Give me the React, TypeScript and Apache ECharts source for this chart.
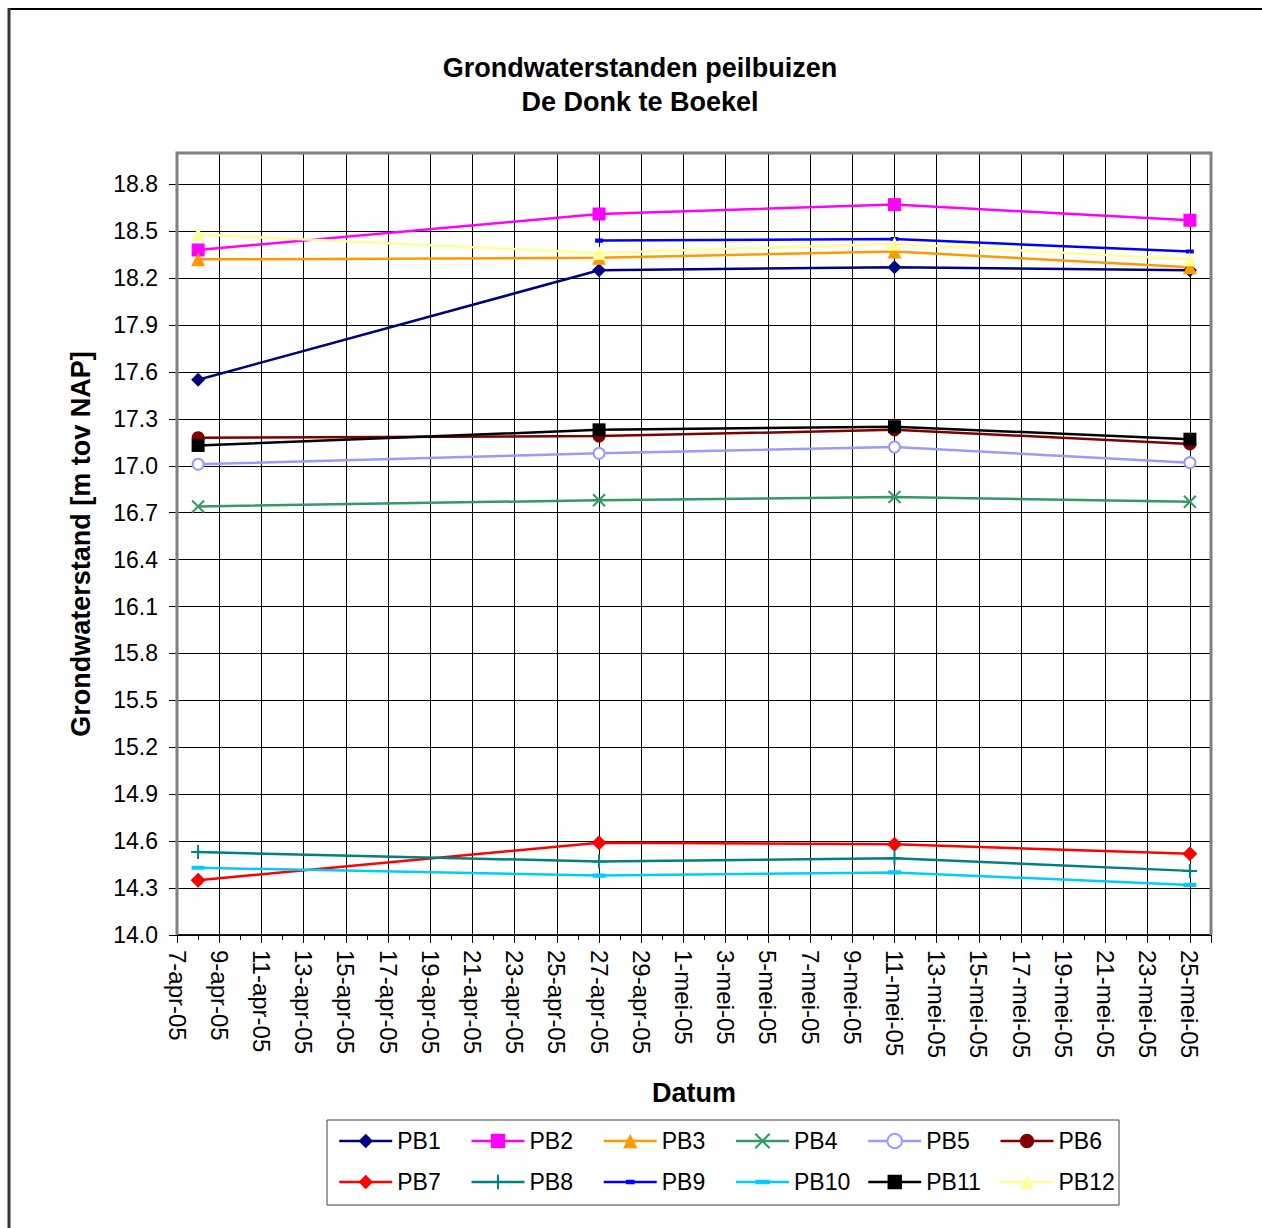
import React, { useEffect, useRef } from "react";
import * as echarts from "echarts";

// ---- data ----
const startDate = "2005-04-07";
const endDate = "2005-05-26";
const measurementDates = ["2005-04-08", "2005-04-27", "2005-05-11", "2005-05-25"];
const monthNames = ["jan", "feb", "mrt", "apr", "mei", "jun", "jul", "aug", "sep", "okt", "nov", "dec"];
const yBase = 14.0;
const yTop = 19.0;
const yStep = 0.3;
const xStepDays = 2;

const PB1 = [17.55, 18.25, 18.27, 18.25];
const PB2 = [18.38, 18.61, 18.67, 18.57];
const PB3 = [18.32, 18.33, 18.37, 18.27];
const PB4 = [16.74, 16.78, 16.8, 16.77];
const PB5 = [17.01, 17.08, 17.12, 17.02];
const PB6 = [17.18, 17.19, 17.23, 17.14];
const PB7 = [14.35, 14.59, 14.58, 14.52];
const PB8 = [14.53, 14.47, 14.49, 14.41];
const PB9 = [null, 18.44, 18.45, 18.37];
const PB10 = [14.43, 14.38, 14.4, 14.32];
const PB11 = [17.13, 17.23, 17.25, 17.17];
const PB12 = [18.48, 18.36, 18.42, 18.32];

const seriesNames = ["PB1", "PB2", "PB3", "PB4", "PB5", "PB6", "PB7", "PB8", "PB9", "PB10", "PB11", "PB12"];
const seriesValues = [PB1, PB2, PB3, PB4, PB5, PB6, PB7, PB8, PB9, PB10, PB11, PB12];

// ---- styles ----
const FONT = "'Liberation Sans', Arial, sans-serif";
const SHORT_DASH = "path://M0,0L0.01,0M2,3.4L8,3.4L8,6.6L2,6.6ZM10,10L9.99,10";
const LONG_DASH = "path://M0,0L0.01,0M0,3.4L10,3.4L10,6.6L0,6.6ZM10,10L9.99,10";
const styles: any[] = [
  { color: "#000080", symbol: "diamond", size: 14 },
  { color: "#FF00FF", symbol: "rect", size: 13 },
  { color: "#FF9900", symbol: "triangle", size: 14 },
  { color: "#339966", symbol: "path://M0,0L10,10M10,0L0,10", size: 12, stroke: true },
  { color: "#9999FF", symbol: "emptyCircle", size: 11 },
  { color: "#800000", symbol: "circle", size: 13 },
  { color: "#FF0000", symbol: "diamond", size: 15 },
  { color: "#008080", symbol: "path://M5,0L5,10M0,5L10,5", size: 14, stroke: true },
  { color: "#0000FF", symbol: SHORT_DASH, size: 13 },
  { color: "#00CCFF", symbol: LONG_DASH, size: 13 },
  { color: "#000000", symbol: "rect", size: 13 },
  { color: "#FFFF99", symbol: "triangle", size: 14 },
];

const DAY = 86400000;
const dayOffset = (d: string) => Math.round((Date.parse(d) - Date.parse(startDate)) / DAY);
const xMax = dayOffset(endDate);

function formatDay(v: number) {
  const d = new Date(Date.parse(startDate) + v * DAY);
  const yy = String(d.getUTCFullYear()).slice(2);
  return `${d.getUTCDate()}-${monthNames[d.getUTCMonth()]}-${yy}`;
}

export default function App() {
  const ref = useRef<HTMLDivElement>(null);

  useEffect(() => {
    if (!ref.current) return;
    const chart = echarts.init(ref.current, null, { renderer: "svg" });

    const series = seriesNames.map((name, i) => {
      const st = styles[i];
      const data = measurementDates
        .map((d, j) => (seriesValues[i][j] == null ? null : [dayOffset(d), (seriesValues[i][j] as number) - yBase]))
        .filter((p) => p !== null);
      return {
        name,
        type: "line",
        data,
        symbol: st.symbol,
        symbolSize: st.size,
        showAllSymbol: true,
        lineStyle: { color: st.color, width: 2.5 },
        itemStyle: st.stroke
          ? { color: st.color, borderColor: st.color, borderWidth: 2 }
          : st.symbol === "emptyCircle"
          ? { color: st.color, borderColor: st.color, borderWidth: 2 }
          : { color: st.color, borderWidth: 0 },
        emphasis: { disabled: true },
      };
    });

    const option: any = {
      animation: false,
      backgroundColor: "#ffffff",
      title: {
        text: "Grondwaterstanden peilbuizen\nDe Donk te Boekel",
        left: 640,
        top: 51,
        padding: 0,
        textAlign: "center",
        textStyle: { fontFamily: FONT, fontSize: 27, fontWeight: "bold", color: "#000", lineHeight: 34 },
      },
      legend: {
        data: seriesNames,
        left: 338,
        top: 1127,
        width: 800,
        padding: 0,
        itemWidth: 53,
        itemHeight: 18,
        itemGap: 13,
        selectedMode: false,
        lineStyle: { width: 2.5 },
        textStyle: { fontFamily: FONT, fontSize: 23, color: "#000", width: 60, lineHeight: 28 },
      },
      grid: {
        left: 177,
        top: 153,
        width: 1034,
        height: 782,
        show: true,
        borderColor: "#808080",
        borderWidth: 2,
        backgroundColor: "#ffffff",
        containLabel: false,
      },
      xAxis: {
        type: "value",
        min: 0,
        max: xMax,
        interval: xStepDays,
        name: "Datum",
        nameLocation: "middle",
        nameGap: 144,
        nameTextStyle: { fontFamily: FONT, fontSize: 27, fontWeight: "bold", color: "#000", verticalAlign: "top" },
        axisLine: { show: true, lineStyle: { color: "#000", width: 1.5 } },
        axisTick: { show: true, length: 8, lineStyle: { color: "#000" } },
        minorTick: { show: true, splitNumber: 2, length: 5, lineStyle: { color: "#000" } },
        axisLabel: {
          rotate: -90,
          margin: 15,
          fontFamily: FONT,
          fontSize: 24,
          color: "#000",
          showMaxLabel: false,
          formatter: (v: number) => formatDay(v),
        },
        splitLine: { show: true, lineStyle: { color: "#000", width: 1 } },
      },
      yAxis: {
        type: "value",
        min: 0,
        max: yTop - yBase,
        interval: yStep,
        name: "Grondwaterstand [m tov NAP]",
        nameLocation: "middle",
        nameGap: 83,
        nameTextStyle: { fontFamily: FONT, fontSize: 27, fontWeight: "bold", color: "#000" },
        axisLine: { show: true, lineStyle: { color: "#606060", width: 2 } },
        axisTick: { show: true, length: 8, lineStyle: { color: "#000" } },
        axisLabel: {
          margin: 19,
          fontFamily: FONT,
          fontSize: 23,
          color: "#000",
          showMaxLabel: false,
          formatter: (v: number) => (v + yBase).toFixed(1),
        },
        splitLine: { show: true, lineStyle: { color: "#000", width: 1 } },
      },
      graphic: [
        { type: "line", shape: { x1: 8, y1: 9, x2: 1262, y2: 9 }, style: { stroke: "#000", lineWidth: 2 } },
        { type: "line", shape: { x1: 9, y1: 8, x2: 9, y2: 1228 }, style: { stroke: "#333", lineWidth: 3 } },
        {
          type: "polyline",
          shape: { points: [[177, 935], [177, 153], [1211, 153], [1211, 935]] },
          style: { fill: "none", stroke: "#808080", lineWidth: 3 },
          z: 50,
        },
        {
          type: "rect",
          shape: { x: 327, y: 1120, width: 792, height: 85 },
          style: { fill: "none", stroke: "#404040", lineWidth: 1 },
          z: -1,
        },
      ],
      series,
    };

    chart.setOption(option);
    return () => chart.dispose();
  }, []);

  return <div ref={ref} style={{ position: "absolute", left: 0, top: 0, width: 1262, height: 1228 }} />;
}
